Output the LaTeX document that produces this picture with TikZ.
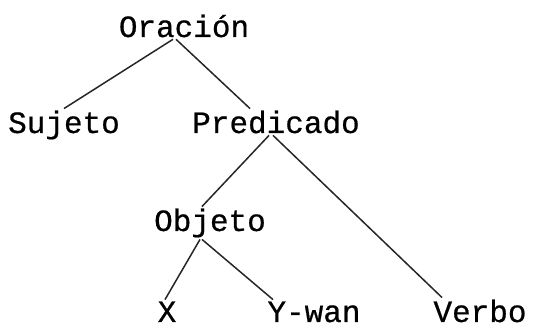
\documentclass[tikz,border=0pt]{standalone}
\usepackage{fontspec}
\setmonofont[FakeBold=0.6]{Liberation Mono}
\tikzset{
  word/.style={font=\ttfamily\fontsize{31}{32}\selectfont, inner sep=0pt, outer sep=2pt, anchor=base},
  branch/.style={line width=1.5pt, draw=black!85}
}
\begin{document}
\begin{tikzpicture}[x=1pt,y=-1pt]
\useasboundingbox (0,0) rectangle (559,328);

\begin{scope}[shift={(0,0)}]
        % Nudos
        \node[word] (oracion)   at (184,37)  {Oración};
        \node[word] (sujeto)    at (64,133)  {Sujeto};
        \node[word] (predicado) at (276,133) {Predicado};
        \node[word] (objeto)    at (210,231) {Objeto};
        \node[word] (x)         at (167,322) {X};
        \node[word] (ywan)      at (314,322) {Y-wan};
        \node[word] (verbo)     at (480,322) {Verbo};

        % Ramas
        \draw[branch] ([xshift=-11pt]oracion.south) -- (sujeto.north);
        \draw[branch] ([xshift=-8pt]oracion.south) -- ([xshift=-26pt]predicado.north);
        \draw[branch] ([xshift=-7pt]predicado.south) -- ([xshift=-8pt]objeto.north);
        \draw[branch] ([xshift=-3pt]predicado.south) -- ([xshift=-38pt]verbo.north);
        \draw[branch] ([xshift=-10pt]objeto.south) -- ([xshift=-2pt]x.north);
        \draw[branch] ([xshift=-8pt]objeto.south) -- ([xshift=-41pt]ywan.north);
\end{scope}

\end{tikzpicture}
\end{document}
